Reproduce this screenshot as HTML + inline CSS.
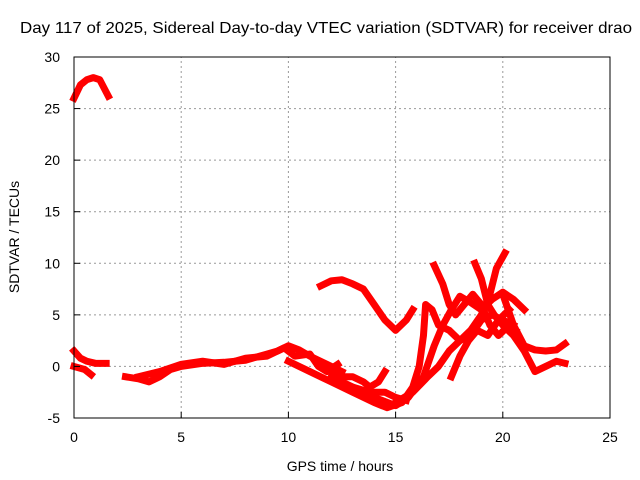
<!DOCTYPE html>
<html><head><meta charset="utf-8"><style>
body{margin:0;background:#fff;}
svg{display:block;font-family:"Liberation Sans",sans-serif;}
</style></head><body>
<svg id="chart" width="640" height="480">
<text x="326" y="33" font-size="16" text-anchor="middle" textLength="612" lengthAdjust="spacingAndGlyphs">Day 117 of 2025, Sidereal Day-to-day VTEC variation (SDTVAR) for receiver drao</text>
<text x="340" y="471" font-size="14" text-anchor="middle">GPS time / hours</text>
<text transform="translate(19,237) rotate(-90)" font-size="14" text-anchor="middle">SDTVAR / TECUs</text>
<g id="grid"></g><g id="tracks"></g><g id="axes"></g>
</svg>
<script>
const xTicks=[0,5,10,15,20,25];
const yTicks=[-5,0,5,10,15,20,25,30];
const track1=[[0,26],[0.3,27.3],[0.6,27.8],[0.9,28],[1.2,27.8],[1.4,27],[1.6,26.2]];
const track2=[[0,1.5],[0.3,0.8],[0.6,0.5],[1,0.3],[1.5,0.3]];
const track3=[[0,0],[0.5,-0.3],[0.8,-0.8]];
const track4=[[2.4,-1],[3,-1.2],[3.5,-1.5],[4,-1],[4.5,-0.3],[5,0],[6,0.3],[7,0.4],[8,0.6],[9,1.2],[9.5,1.5],[10,2],[10.5,1.6],[11,1],[11.5,0.5],[12,0],[12.5,-0.5]];
const track5=[[3,-1],[4,-0.5],[5,0.2],[6,0.5],[7,0.2],[8,0.8],[9,1],[9.8,1.8],[10.3,1],[11,1.2],[11.4,0],[11.8,-0.5],[12.3,0.2]];
const track6=[[11.5,7.8],[12,8.3],[12.5,8.4],[13,8],[13.5,7.5],[14,6],[14.5,4.5],[15,3.5],[15.5,4.5],[15.8,5.5]];
const track7=[[10,0.5],[11,-0.5],[12,-1.5],[13,-2.5],[14,-3.5],[14.6,-4],[15.3,-3.5],[15.8,-2],[16.1,0],[16.3,3],[16.4,6],[16.7,5.5],[17,4],[17.5,3.5],[18,2.5],[18.5,3],[19,4.5],[19.5,5],[20,4.5],[20.5,4]];
const track8=[[12,-1],[13,-2],[14,-3],[15,-3.8],[15.6,-3],[16.3,-1],[16.8,2],[17.2,4],[17.6,5.5],[18,6.8],[18.5,6.2],[19,5.5],[19.5,6.5],[20,7.2],[20.5,6.5],[21,5.5]];
const track9=[[16.8,9.8],[17.2,8],[17.5,6],[17.8,5],[18.2,6],[18.6,7],[19,6],[19.4,4],[19.8,3],[20.3,4],[20.6,3.5]];
const track10=[[18.7,10],[19,8.5],[19.3,6],[19.6,5],[20,4],[20.5,3],[21,1.5],[21.5,-0.5],[22,0],[22.5,0.5],[22.9,0.3]];
const track11=[[15,-3.5],[15.8,-2.5],[16.5,-1],[17,0],[17.5,1.5],[18,2.5],[18.5,3.5],[19,5],[19.4,7],[19.7,9.5],[20.1,11]];
const track12=[[17.6,-1],[18,1],[18.4,2.5],[18.8,3.5],[19.3,3],[19.8,4.5],[20.3,5.5]];
const track13=[[20,7],[20.5,4],[21,2],[21.5,1.6],[22,1.5],[22.5,1.6],[22.9,2.2]];
const track14=[[12,-0.5],[12.5,-1],[13,-1],[13.5,-1.5],[13.8,-2],[14.2,-1.5],[14.5,-0.5]];
const track15=[[13,-2],[13.8,-2.5],[14.5,-2.5],[15,-3],[15.5,-3.3]];
const tracks=[track1,track2,track3,track4,track5,track6,track7,track8,track9,track10,track11,track12,track13,track14,track15];
const X0=74,X1=610,Y0=418,Y1=57;
function sx(t){return X0+(t-0)/(25-0)*(X1-X0);}
function sy(v){return Y0-(v+5)/(30+5)*(Y0-Y1);}
const NS='http://www.w3.org/2000/svg';
const grid=document.getElementById('grid'),tg=document.getElementById('tracks'),ax=document.getElementById('axes');
function mk(tag,attrs,parent){const e=document.createElementNS(NS,tag);for(const k in attrs)e.setAttribute(k,attrs[k]);parent.appendChild(e);return e;}
xTicks.forEach(t=>{
  if(t>0&&t<25){const g=mk('line',{x1:sx(t),x2:sx(t),y1:Y0,y2:Y1,stroke:'#999','stroke-dasharray':'2,3'},grid);
  
  }
  const tk=mk('line',{x1:sx(t),x2:sx(t),y1:Y0,y2:Y0-6,stroke:'#000'},ax);
  
  
  const lb=mk('text',{x:sx(t),y:Y0+24,'font-size':14,'text-anchor':'middle'},ax);lb.textContent=t;
  
  
});
yTicks.forEach(v=>{
  if(v>-5&&v<30){const g=mk('line',{x1:X0,x2:X1,y1:sy(v),y2:sy(v),stroke:'#999','stroke-dasharray':'2,3'},grid);
  
  }
  const tk=mk('line',{x1:X0,x2:X0+6,y1:sy(v),y2:sy(v),stroke:'#000'},ax);
  
  
  const lb=mk('text',{x:X0-14,y:sy(v)+5,'font-size':14,'text-anchor':'end'},ax);lb.textContent=v;
  
  
});
tracks.forEach(tr=>{
  const p=mk('polyline',{points:tr.map(d=>sx(d[0])+','+sy(d[1])).join(' '),fill:'none',stroke:'#f00','stroke-width':7,'stroke-linejoin':'round','stroke-linecap':'square'},tg);
  
  
});
const fr=mk('rect',{x:X0,y:Y1,width:X1-X0,height:Y0-Y1,fill:'none',stroke:'#000'},ax);


</script>
</body></html>
